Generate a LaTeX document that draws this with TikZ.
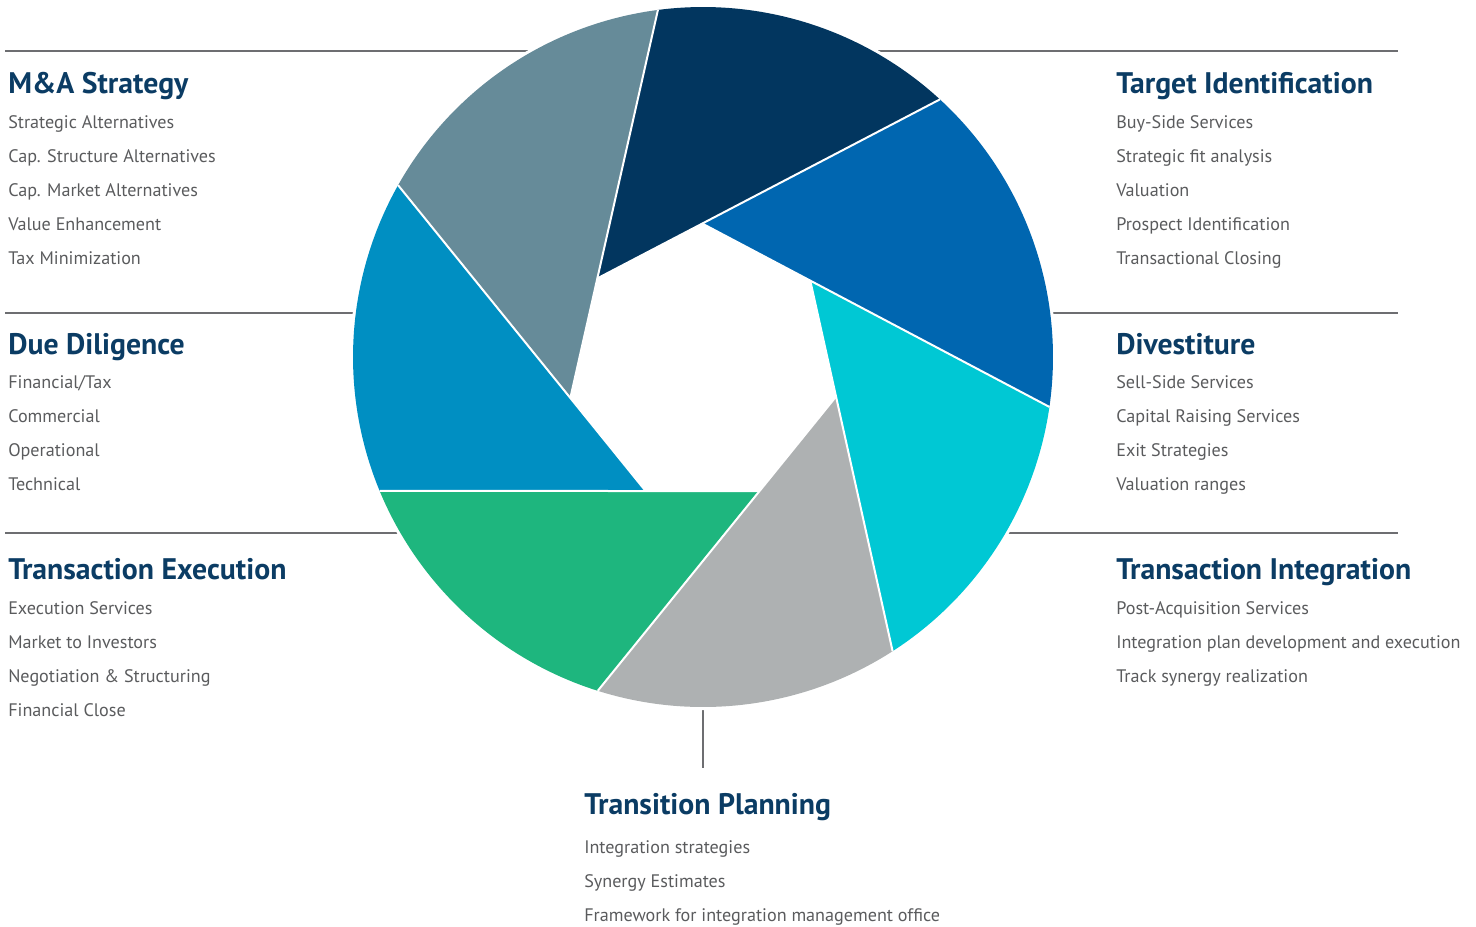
\documentclass[tikz,border=0pt]{standalone}
\usepackage{fontspec}
\setmainfont{PT Sans}
\usetikzlibrary{calc}
\definecolor{bladeA}{HTML}{02365F}
\definecolor{bladeB}{HTML}{0066B0}
\definecolor{bladeC}{HTML}{00C8D4}
\definecolor{bladeD}{HTML}{AEB1B2}
\definecolor{bladeE}{HTML}{1EB67E}
\definecolor{bladeF}{HTML}{008FC2}
\definecolor{bladeG}{HTML}{668B99}
\definecolor{headc}{HTML}{0B3C64}
\definecolor{itemc}{HTML}{5A5B5D}
\definecolor{rulec}{HTML}{6D6E71}
\begin{document}
\begin{tikzpicture}[x=0.75pt,y=-0.75pt,
  head/.style={anchor=base west, inner sep=0pt, font=\bfseries\fontsize{22.3}{26}\selectfont, text=headc},
  item/.style={anchor=base west, inner sep=0pt, font=\fontsize{13.6}{16}\selectfont, text=itemc},
  rulestyle/.style={draw=rulec, line width=1pt},
  gapline/.style={draw=white, line width=1.5pt}]
\useasboundingbox (0,0) rectangle (1476,926);
\coordinate (C) at (703,357);
% rules
\coordinate (r1a) at (5,51);   \coordinate (r1b) at (1398,51);
\coordinate (r2a) at (5,313);  \coordinate (r2b) at (1398,313);
\coordinate (r3a) at (5,533);  \coordinate (r3b) at (1398,533);
\coordinate (r4a) at (703,700); \coordinate (r4b) at (703,768);
\draw[rulestyle] (r1a) -- (r1b);
\draw[rulestyle] (r2a) -- (r2b);
\draw[rulestyle] (r3a) -- (r3b);
\draw[rulestyle] (r4a) -- (r4b);
\fill[white] (C) circle[radius=353];
% outer points
\coordinate (P1) at ($(C)+(-97.4:350)$);
\coordinate (P2) at ($(C)+(-47.4:350)$);
\coordinate (P3) at ($(C)+(8.2:350)$);
\coordinate (P4) at ($(C)+(57.2:350)$);
\coordinate (P5) at ($(C)+(107.5:350)$);
\coordinate (P6) at ($(C)+(157.5:350)$);
\coordinate (P7) at ($(C)+(209.4:350)$);
% guide points
\coordinate (Q1) at (571,395);
\coordinate (Q2) at (600,277);
\coordinate (Q3) at (705,225);
\coordinate (Q4) at (811,284);
\coordinate (Q5) at (834,399);
\coordinate (Q6) at (756,491);
\coordinate (Q7) at (644,489);
% inner vertices
\coordinate (V1) at (intersection of P1--Q1 and P2--Q2);
\coordinate (V2) at (intersection of P2--Q2 and P3--Q3);
\coordinate (V3) at (intersection of P3--Q3 and P4--Q4);
\coordinate (V4) at (intersection of P4--Q4 and P5--Q5);
\coordinate (V5) at (intersection of P5--Q5 and P6--Q6);
\coordinate (V6) at (intersection of P6--Q6 and P7--Q7);
\coordinate (V7) at (intersection of P7--Q7 and P1--Q1);
% blades
\fill[bladeA] (P1) arc[start angle=-97.4, end angle=-47.4, radius=350] -- (V1) -- cycle;
\fill[bladeB] (P2) arc[start angle=-47.4, end angle=8.2, radius=350] -- (V2) -- cycle;
\fill[bladeC] (P3) arc[start angle=8.2, end angle=57.2, radius=350] -- (V3) -- cycle;
\fill[bladeD] (P4) arc[start angle=57.2, end angle=107.5, radius=350] -- (V4) -- cycle;
\fill[bladeE] (P5) arc[start angle=107.5, end angle=157.5, radius=350] -- (V5) -- cycle;
\fill[bladeF] (P6) arc[start angle=157.5, end angle=209.4, radius=350] -- (V6) -- cycle;
\fill[bladeG] (P7) arc[start angle=209.4, end angle=262.6, radius=350] -- (V7) -- cycle;
% separating lines
\draw[gapline] (P1) -- (V7);
\draw[gapline] (P2) -- (V1);
\draw[gapline] (P3) -- (V2);
\draw[gapline] (P4) -- (V3);
\draw[gapline] (P5) -- (V4);
\draw[gapline] (P6) -- (V5);
\draw[gapline] (P7) -- (V6);
% left column
\node[head] (h1) at (8,93) {M\&A Strategy};
\node[item] (h1a) at (8,128) {Strategic Alternatives};
\node[item] (h1b) at (8,162) {Cap. Structure Alternatives};
\node[item] (h1c) at (8,196) {Cap. Market Alternatives};
\node[item] (h1d) at (8,230) {Value Enhancement};
\node[item] (h1e) at (8,264) {Tax Minimization};
\node[head] (h2) at (8,354) {Due Diligence};
\node[item] (h2a) at (8,388) {Financial/Tax};
\node[item] (h2b) at (8,422) {Commercial};
\node[item] (h2c) at (8,456) {Operational};
\node[item] (h2d) at (8,490) {Technical};
\node[head] (h3) at (8,579) {Transaction Execution};
\node[item] (h3a) at (8,614) {Execution Services};
\node[item] (h3b) at (8,648) {Market to Investors};
\node[item] (h3c) at (8,682) {Negotiation \& Structuring};
\node[item] (h3d) at (8,716) {Financial Close};
% right column
\node[head] (h4) at (1116,93) {Target Identification};
\node[item] (h4a) at (1116,128) {Buy-Side Services};
\node[item] (h4b) at (1116,162) {Strategic fit analysis};
\node[item] (h4c) at (1116,196) {Valuation};
\node[item] (h4d) at (1116,230) {Prospect Identification};
\node[item] (h4e) at (1116,264) {Transactional Closing};
\node[head] (h5) at (1116,354) {Divestiture};
\node[item] (h5a) at (1116,388) {Sell-Side Services};
\node[item] (h5b) at (1116,422) {Capital Raising Services};
\node[item] (h5c) at (1116,456) {Exit Strategies};
\node[item] (h5d) at (1116,490) {Valuation ranges};
\node[head] (h6) at (1116,579) {Transaction Integration};
\node[item] (h6a) at (1116,614) {Post-Acquisition Services};
\node[item] (h6b) at (1116,648) {Integration plan development and execution};
\node[item] (h6c) at (1116,682) {Track synergy realization};
% bottom
\node[head] (h7) at (584,814) {Transition Planning};
\node[item] (h7a) at (584,853) {Integration strategies};
\node[item] (h7b) at (584,887) {Synergy Estimates};
\node[item] (h7c) at (584,921) {Framework for integration management office};
\end{tikzpicture}
\end{document}
